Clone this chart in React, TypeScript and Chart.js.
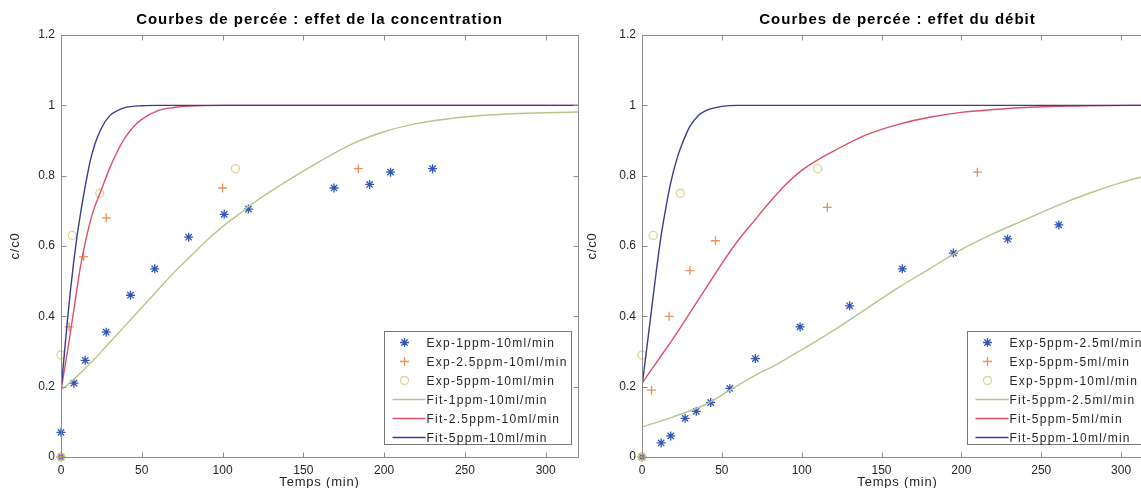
import React, { useEffect, useRef } from 'react';
import { Chart, registerables } from 'chart.js';

Chart.register(...registerables);

const FONT = "'Liberation Sans', Arial, Helvetica, sans-serif";
const AXIS_COLOR = '#8c8c8c';
const TEXT_COLOR = '#262626';

// shared tick values
const xTickValues = [0, 50, 100, 150, 200, 250, 300];
const yTickValues = [0, 0.2, 0.4, 0.6, 0.8, 1, 1.2];
const xMax = 320;
const yMax = 1.2;
const xAxisTitle = 'Temps (min)';
const yAxisTitle = 'c/c0';

// colours
const COL_EXP_BLUE = '#3156b8';
const COL_EXP_ORANGE = '#e8925a';
const COL_EXP_YELLOW = '#dcd68e';
const COL_FIT_GREEN = '#b2c78c';
const COL_FIT_RED = '#d9506a';
const COL_FIT_NAVY = '#3a3d8c';

// ---------- Left panel: effet de la concentration ----------
const concTitle = 'Courbes de percée : effet de la concentration';
const concLabels = [
  'Exp-1ppm-10ml/min',
  'Exp-2.5ppm-10ml/min',
  'Exp-5ppm-10ml/min',
  'Fit-1ppm-10ml/min',
  'Fit-2.5ppm-10ml/min',
  'Fit-5ppm-10ml/min',
];
const exp1ppmX = [0, 0, 8, 15, 28, 43, 58, 79, 101, 116, 169, 191, 204, 230];
const exp1ppmY = [0, 0.07, 0.21, 0.275, 0.355, 0.46, 0.535, 0.625, 0.69, 0.705, 0.765, 0.775, 0.81, 0.82];
const exp25ppmX = [0, 5, 14, 28, 100, 184];
const exp25ppmY = [0, 0.37, 0.57, 0.68, 0.765, 0.82];
const exp5ppmX = [0, 0, 7, 24, 108];
const exp5ppmY = [0, 0.29, 0.63, 0.75, 0.82];
const fit1ppmX = [0, 10, 20, 30, 40, 50, 60, 70, 80, 90, 100, 110, 120, 140, 160, 180, 200, 220, 240, 260, 280, 300, 320];
const fit1ppmY = [0.19, 0.23, 0.275, 0.325, 0.375, 0.425, 0.475, 0.525, 0.57, 0.615, 0.655, 0.69, 0.725, 0.785, 0.84, 0.89, 0.925, 0.948, 0.962, 0.971, 0.976, 0.979, 0.981];
const fit25ppmX = [0, 4, 8, 12, 16, 20, 25, 30, 35, 40, 45, 50, 60, 70, 80, 100, 320];
const fit25ppmY = [0.19, 0.3, 0.42, 0.54, 0.63, 0.7, 0.76, 0.82, 0.87, 0.91, 0.94, 0.96, 0.985, 0.994, 0.998, 1, 1];
const fit5ppmX = [0, 2, 4, 6, 8, 10, 12, 15, 18, 21, 25, 30, 35, 40, 50, 60, 320];
const fit5ppmY = [0.19, 0.29, 0.39, 0.48, 0.56, 0.63, 0.69, 0.77, 0.84, 0.89, 0.935, 0.97, 0.985, 0.994, 0.999, 1, 1];

// ---------- Right panel: effet du débit ----------
const debitTitle = 'Courbes de percée : effet du débit';
const debitLabels = [
  'Exp-5ppm-2.5ml/min',
  'Exp-5ppm-5ml/min',
  'Exp-5ppm-10ml/min',
  'Fit-5ppm-2.5ml/min',
  'Fit-5ppm-5ml/min',
  'Fit-5ppm-10ml/min',
];
const exp25mlX = [0, 12, 18, 27, 34, 43, 55, 71, 99, 130, 163, 195, 229, 261];
const exp25mlY = [0, 0.04, 0.06, 0.11, 0.13, 0.155, 0.195, 0.28, 0.37, 0.43, 0.535, 0.58, 0.62, 0.66];
const exp5mlX = [0, 6, 17, 30, 46, 116, 210];
const exp5mlY = [0, 0.19, 0.4, 0.53, 0.615, 0.71, 0.81];
const exp10mlX = [0, 0, 7, 24, 110];
const exp10mlY = [0, 0.29, 0.63, 0.75, 0.82];
const fit25mlX = [0, 20, 40, 55, 70, 85, 100, 120, 140, 160, 180, 200, 220, 240, 260, 280, 300, 320];
const fit25mlY = [0.085, 0.115, 0.15, 0.19, 0.23, 0.265, 0.305, 0.36, 0.42, 0.48, 0.535, 0.59, 0.635, 0.675, 0.715, 0.75, 0.78, 0.805];
const fit5mlX = [0, 10, 20, 30, 40, 50, 60, 70, 80, 90, 100, 110, 120, 140, 160, 180, 200, 220, 240, 260, 280, 320];
const fit5mlY = [0.21, 0.275, 0.34, 0.41, 0.48, 0.55, 0.615, 0.67, 0.725, 0.775, 0.815, 0.845, 0.87, 0.915, 0.945, 0.966, 0.98, 0.988, 0.994, 0.997, 0.999, 1];
const fit10mlX = [0, 3, 6, 9, 12, 15, 18, 22, 26, 30, 35, 40, 50, 60, 320];
const fit10mlY = [0.2, 0.31, 0.42, 0.53, 0.63, 0.71, 0.78, 0.85, 0.9, 0.94, 0.97, 0.985, 0.997, 1, 1];

type Kind = 'star' | 'cross' | 'circle' | 'line';
type Series = { label: string; kind: Kind; color: string; xs: number[]; ys: number[] };

const concSeries: Series[] = [
  { label: concLabels[0], kind: 'star', color: COL_EXP_BLUE, xs: exp1ppmX, ys: exp1ppmY },
  { label: concLabels[1], kind: 'cross', color: COL_EXP_ORANGE, xs: exp25ppmX, ys: exp25ppmY },
  { label: concLabels[2], kind: 'circle', color: COL_EXP_YELLOW, xs: exp5ppmX, ys: exp5ppmY },
  { label: concLabels[3], kind: 'line', color: COL_FIT_GREEN, xs: fit1ppmX, ys: fit1ppmY },
  { label: concLabels[4], kind: 'line', color: COL_FIT_RED, xs: fit25ppmX, ys: fit25ppmY },
  { label: concLabels[5], kind: 'line', color: COL_FIT_NAVY, xs: fit5ppmX, ys: fit5ppmY },
];

const debitSeries: Series[] = [
  { label: debitLabels[0], kind: 'star', color: COL_EXP_BLUE, xs: exp25mlX, ys: exp25mlY },
  { label: debitLabels[1], kind: 'cross', color: COL_EXP_ORANGE, xs: exp5mlX, ys: exp5mlY },
  { label: debitLabels[2], kind: 'circle', color: COL_EXP_YELLOW, xs: exp10mlX, ys: exp10mlY },
  { label: debitLabels[3], kind: 'line', color: COL_FIT_GREEN, xs: fit25mlX, ys: fit25mlY },
  { label: debitLabels[4], kind: 'line', color: COL_FIT_RED, xs: fit5mlX, ys: fit5mlY },
  { label: debitLabels[5], kind: 'line', color: COL_FIT_NAVY, xs: fit10mlX, ys: fit10mlY },
];

const toPoints = (xs: number[], ys: number[]) => xs.map((x, i) => ({ x, y: ys[i] }));

function drawMarker(ctx: CanvasRenderingContext2D, kind: Kind, color: string, cx: number, cy: number) {
  const r = kind === 'circle' ? 4 : 4.5;
  ctx.strokeStyle = color;
  ctx.lineWidth = 1.3;
  ctx.beginPath();
  if (kind === 'circle') {
    ctx.arc(cx, cy, r, 0, Math.PI * 2);
  } else {
    ctx.moveTo(cx - r, cy);
    ctx.lineTo(cx + r, cy);
    ctx.moveTo(cx, cy - r);
    ctx.lineTo(cx, cy + r);
    if (kind === 'star') {
      const d = r * 0.707;
      ctx.moveTo(cx - d, cy - d);
      ctx.lineTo(cx + d, cy + d);
      ctx.moveTo(cx - d, cy + d);
      ctx.lineTo(cx + d, cy - d);
    }
  }
  ctx.stroke();
}

function makeFramePlugin(title: string, series: Series[], yTitleX: number) {
  return {
    id: 'matlabFrame',
    afterDraw(chart: any) {
      const { ctx, chartArea: a, scales } = chart;
      ctx.save();
      // box
      ctx.strokeStyle = AXIS_COLOR;
      ctx.lineWidth = 1;
      const L = Math.round(a.left) + 0.5;
      const T = Math.round(a.top) + 0.5;
      const R = Math.round(a.right) + 0.5;
      const B = Math.round(a.bottom) + 0.5;
      ctx.beginPath();
      ctx.moveTo(L, T);
      ctx.lineTo(R, T);
      ctx.lineTo(R, B);
      ctx.lineTo(L, B);
      ctx.closePath();
      ctx.stroke();
      // inward ticks on all four sides
      const tl = 5;
      ctx.beginPath();
      scales.x.ticks.forEach((t: any) => {
        const px = Math.round(scales.x.getPixelForValue(t.value)) + 0.5;
        ctx.moveTo(px, B);
        ctx.lineTo(px, B - tl);
        ctx.moveTo(px, T);
        ctx.lineTo(px, T + tl);
      });
      scales.y.ticks.forEach((t: any) => {
        const py = Math.round(scales.y.getPixelForValue(t.value)) + 0.5;
        ctx.moveTo(L, py);
        ctx.lineTo(L + tl, py);
        ctx.moveTo(R, py);
        ctx.lineTo(R - tl, py);
      });
      ctx.stroke();

      // title
      ctx.fillStyle = '#000';
      ctx.font = `bold 15px ${FONT}`;
      (ctx as any).letterSpacing = '1px';
      ctx.textAlign = 'center';
      ctx.textBaseline = 'middle';
      ctx.fillText(title, (a.left + a.right) / 2, 20);

      // axis titles
      ctx.fillStyle = TEXT_COLOR;
      ctx.font = `13px ${FONT}`;
      (ctx as any).letterSpacing = '0.8px';
      ctx.fillText(xAxisTitle, (a.left + a.right) / 2, 482);
      ctx.save();
      ctx.translate(yTitleX, (a.top + a.bottom) / 2);
      ctx.rotate(-Math.PI / 2);
      ctx.fillText(yAxisTitle, 0, 0);
      ctx.restore();

      // legend
      ctx.font = `12px ${FONT}`;
      (ctx as any).letterSpacing = '1.25px';
      const textW = Math.max(...series.map((s) => ctx.measureText(s.label).width));
      const rowH = 19;
      const boxR = Math.round(a.right - 7) + 0.5;
      const boxB = Math.round(a.bottom - 13) + 0.5;
      const boxW = Math.round(42 + textW + 4);
      const boxH = 113;
      const boxL = boxR - boxW;
      const boxT = boxB - boxH;
      ctx.fillStyle = '#fff';
      ctx.fillRect(boxL, boxT, boxW, boxH);
      ctx.strokeStyle = '#7a7a7a';
      ctx.lineWidth = 1;
      ctx.strokeRect(boxL, boxT, boxW, boxH);
      ctx.textAlign = 'left';
      ctx.textBaseline = 'middle';
      series.forEach((s, i) => {
        const cy = boxT + 11 + i * rowH;
        if (s.kind === 'line') {
          ctx.strokeStyle = s.color;
          ctx.lineWidth = 1.5;
          ctx.beginPath();
          ctx.moveTo(boxL + 8, cy);
          ctx.lineTo(boxL + 41, cy);
          ctx.stroke();
        } else {
          drawMarker(ctx, s.kind, s.color, boxL + 20, cy);
        }
        ctx.fillStyle = TEXT_COLOR;
        ctx.fillText(s.label, boxL + 42, cy + 1);
      });
      ctx.restore();
    },
  };
}

function buildDatasets(series: Series[]) {
  const n = series.length;
  return series.map((s, i) => {
    const data = toPoints(s.xs, s.ys);
    // MATLAB draws later series on top: lower Chart.js order = drawn later
    const order = n - i;
    if (s.kind === 'line') {
      return {
        label: s.label,
        data,
        showLine: true,
        borderColor: s.color,
        borderWidth: 1.4,
        pointRadius: 0,
        cubicInterpolationMode: 'monotone' as const,
        order,
      };
    }
    return {
      label: s.label,
      data,
      showLine: false,
      pointStyle: s.kind === 'star' ? 'star' : s.kind === 'cross' ? 'cross' : 'circle',
      pointRadius: s.kind === 'circle' ? 4 : 4.5,
      pointBorderColor: s.color,
      pointBackgroundColor: 'rgba(0,0,0,0)',
      pointBorderWidth: 1.3,
      clip: false as any,
      order,
    };
  });
}

function Panel(props: { title: string; series: Series[]; width: number; left: number; yAxisWidth: number; yTitleX: number }) {
  const ref = useRef<HTMLCanvasElement | null>(null);
  useEffect(() => {
    if (!ref.current) return;
    const chart = new Chart(ref.current, {
      type: 'scatter',
      data: { datasets: buildDatasets(props.series) as any },
      options: {
        animation: false,
        responsive: false,
        events: [],
        layout: { padding: { top: 35, right: 7, left: 0, bottom: 0 } },
        plugins: { legend: { display: false }, title: { display: false }, tooltip: { enabled: false } },
        scales: {
          x: {
            type: 'linear',
            min: 0,
            max: xMax,
            grid: { display: false, drawTicks: false },
            border: { display: false },
            afterBuildTicks: (scale: any) => {
              scale.ticks = xTickValues.map((v) => ({ value: v }));
            },
            afterFit: (scale: any) => {
              scale.height = 31;
            },
            ticks: {
              padding: 6,
              color: TEXT_COLOR,
              font: { family: FONT, size: 12 },
              maxRotation: 0,
              callback: (v: any) => String(v),
            },
          },
          y: {
            type: 'linear',
            min: 0,
            max: yMax,
            grid: { display: false, drawTicks: false },
            border: { display: false },
            afterBuildTicks: (scale: any) => {
              scale.ticks = yTickValues.map((v) => ({ value: v }));
            },
            afterFit: (scale: any) => {
              scale.width = props.yAxisWidth;
            },
            ticks: {
              padding: 6,
              color: TEXT_COLOR,
              font: { family: FONT, size: 12 },
              callback: (v: any) => String(Math.round(Number(v) * 10) / 10),
            },
          },
        },
      },
      plugins: [makeFramePlugin(props.title, props.series, props.yTitleX)],
    });
    return () => chart.destroy();
  }, []);
  return (
    <canvas
      ref={ref}
      width={props.width}
      height={488}
      style={{ position: 'absolute', left: props.left, top: 0, width: props.width, height: 488 }}
    />
  );
}

export default function App() {
  return (
    <div
      style={{
        position: 'absolute',
        left: 0,
        top: 0,
        width: 1141,
        height: 488,
        overflow: 'hidden',
        background: '#fff',
      }}
    >
      <Panel title={concTitle} series={concSeries} width={585} left={0} yAxisWidth={61} yTitleX={15} />
      <Panel title={debitTitle} series={debitSeries} width={580} left={580} yAxisWidth={62} yTitleX={12} />
    </div>
  );
}
